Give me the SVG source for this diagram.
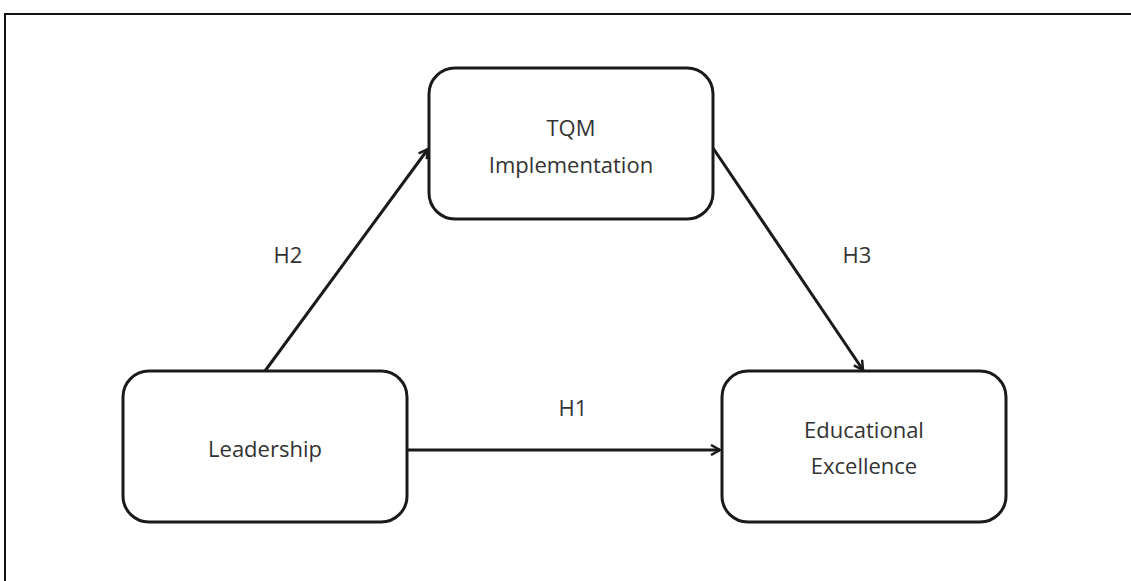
<svg xmlns="http://www.w3.org/2000/svg" width="1131" height="581" viewBox="0 0 1131 581">
<style>
.node{fill:#fff;stroke:#1a1a1a;stroke-width:3}
.t{font-family:"Open Sans","Liberation Sans",sans-serif;font-size:22px;fill:#333;text-anchor:middle}
.c{stroke:#1a1a1a;stroke-width:3;fill:none;marker-end:url(#ah)}
</style>
<defs>
<marker id="ah" markerWidth="12" markerHeight="12" refX="10" refY="6" orient="auto" markerUnits="userSpaceOnUse">
<path d="M1,1 L10,6 L1,11" fill="none" stroke="#1a1a1a" stroke-width="2.5"/>
</marker>
</defs>
<rect x="0" y="0" width="1131" height="581" fill="#fff"/>
<path d="M5,581 V14 H1131" fill="none" stroke="#111" stroke-width="2"/>
<g id="connectors">
<path class="c" d="M265,371 L428,149"/>
<path class="c" d="M713,148 L863,370"/>
<path class="c" d="M407,450 L720,450"/>
<text class="t" x="288" y="263">H2</text>
<text class="t" x="857" y="263">H3</text>
<text class="t" x="573" y="416">H1</text>
</g>
<g id="tqm">
<rect class="node" x="429" y="68" width="284" height="151" rx="26"/>
<text class="t" x="571" y="136">TQM</text>
<text class="t" x="571" y="173">Implementation</text>
</g>
<g id="leadership">
<rect class="node" x="123" y="371" width="284" height="151" rx="26"/>
<text class="t" x="265" y="457">Leadership</text>
</g>
<g id="excellence">
<rect class="node" x="722" y="371" width="284" height="151" rx="26"/>
<text class="t" x="864" y="438">Educational</text>
<text class="t" x="864" y="474">Excellence</text>
</g>
</svg>
